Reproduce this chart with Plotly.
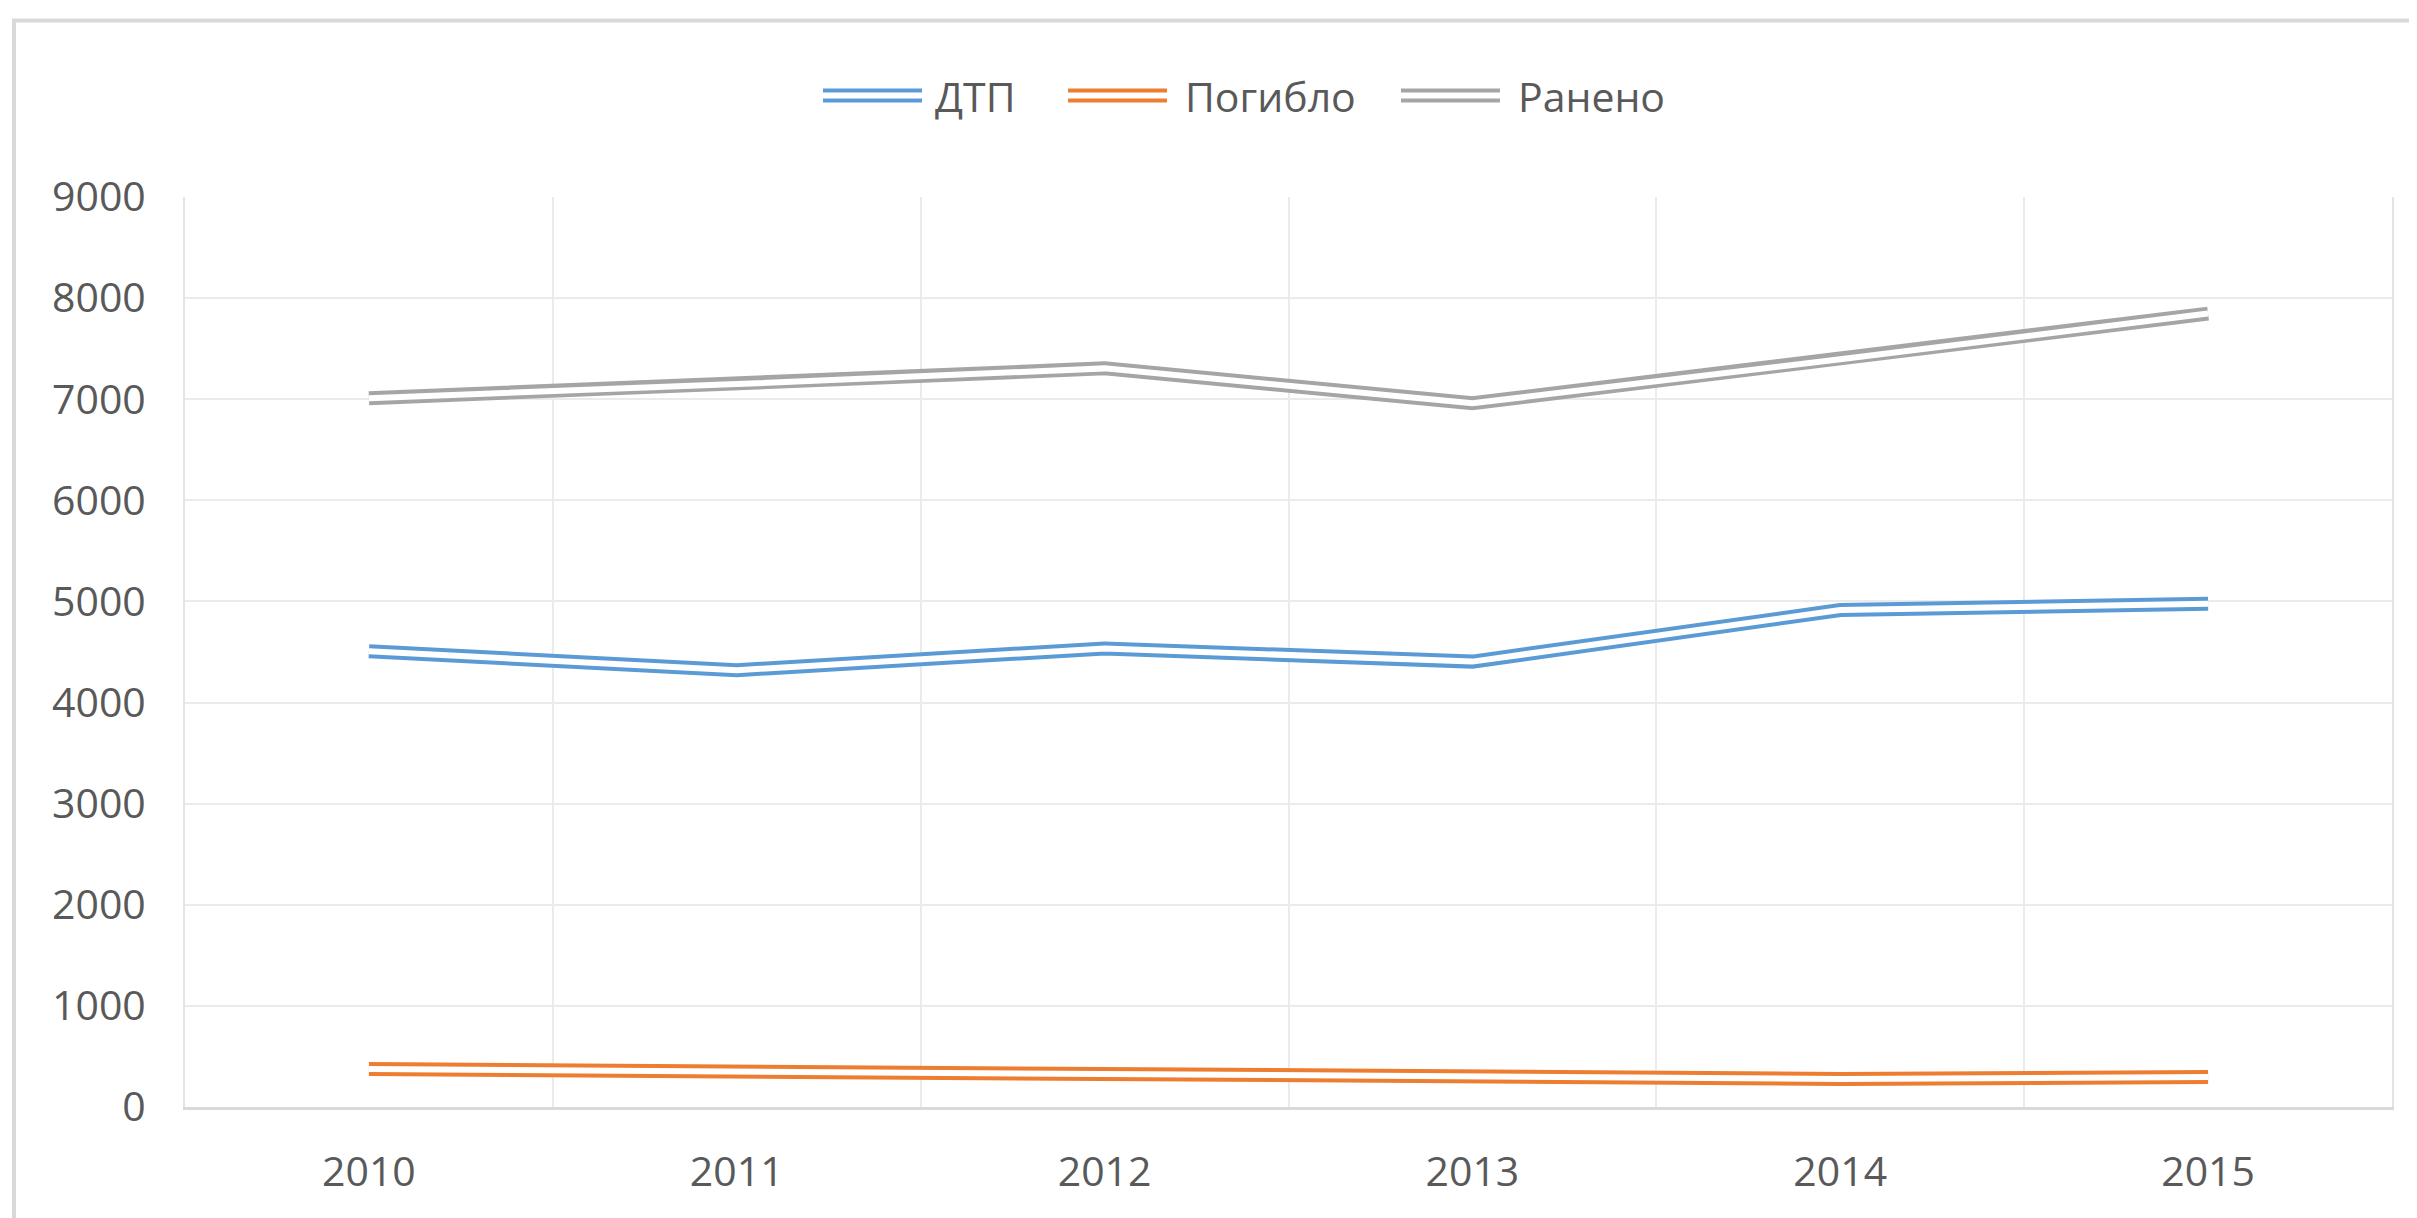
import plotly.graph_objects as go

# ---- data ----
years = ["2010", "2011", "2012", "2013", "2014", "2015"]
dtp = [4507, 4320, 4535, 4405, 4915, 4978]
pogiblo = [375, 350, 320, 300, 278, 296]
raneno = [7010, 7150, 7305, 6960, 7395, 7847]

series_names = ["ДТП", "Погибло", "Ранено"]
series_values = [dtp, pogiblo, raneno]
series_colors = ["#5B9BD5", "#ED7D31", "#A5A5A5"]

y_ticks = [0, 1000, 2000, 3000, 4000, 5000, 6000, 7000, 8000, 9000]

# ---- layout geometry (window pixels; page body has an 8px margin) ----
OFF = 8
W, H = 2417 - OFF, 1218 - OFF
L, R, T, B = 185, 2392, 197, 1107   # plot area in window pixels


def px(x):
    return (x - L) / (R - L)


def py(y):
    return (B - y) / (B - T)


FONT = "Open Sans"
FS = 41
TXT = "#595959"

fig = go.Figure()

# Double ("compound") lines: thick coloured stroke with a white core
for name, vals, col in zip(series_names, series_values, series_colors):
    fig.add_trace(go.Scatter(x=years, y=vals, mode="lines", name=name,
                             line=dict(color=col, width=14),
                             showlegend=False, hoverinfo="x+y+name"))
    fig.add_trace(go.Scatter(x=years, y=vals, mode="lines", name=name,
                             line=dict(color="white", width=6),
                             showlegend=False, hoverinfo="skip"))

shapes = []
annotations = []

# outer chart border
shapes.append(dict(type="rect", xref="paper", yref="paper",
                   x0=px(14), x1=px(2450), y0=py(1260), y1=py(20.5),
                   line=dict(color="#D9D9D9", width=4), fillcolor="rgba(0,0,0,0)",
                   layer="below"))

# custom legend (double-line symbols + text)
legend_items = [
    (823, 922, 933),
    (1068, 1167, 1183),
    (1401, 1500, 1516),
]
LEG_Y = 95.5
for (x0, x1, xt), name, col in zip(legend_items, series_names, series_colors):
    shapes.append(dict(type="line", xref="paper", yref="paper",
                       x0=px(x0), x1=px(x1), y0=py(LEG_Y), y1=py(LEG_Y),
                       line=dict(color=col, width=14), layer="above"))
    shapes.append(dict(type="line", xref="paper", yref="paper",
                       x0=px(x0) - 0.001, x1=px(x1) + 0.001, y0=py(LEG_Y), y1=py(LEG_Y),
                       line=dict(color="white", width=6), layer="above"))
    annotations.append(dict(xref="paper", yref="paper", x=px(xt), y=py(LEG_Y + 1),
                            text=name, showarrow=False, xanchor="left",
                            yanchor="middle",
                            font=dict(family=FONT, size=FS, color=TXT)))

fig.update_layout(
    width=W, height=H,
    margin=dict(l=L - OFF, r=(W + OFF) - R, t=T - OFF, b=(H + OFF) - B, pad=0),
    paper_bgcolor="white", plot_bgcolor="white",
    showlegend=False,
    shapes=shapes, annotations=annotations,
    font=dict(family=FONT, size=FS, color=TXT),
)

fig.update_xaxes(type="category", categoryorder="array", categoryarray=years,
                 range=[-0.5, 5.5], tickson="boundaries",
                 showgrid=True, gridcolor="#EBEBEB", gridwidth=2,
                 showline=True, linecolor="#D9D9D9", linewidth=3,
                 ticks="", ticklabelstandoff=27,
                 tickfont=dict(family=FONT, size=FS, color=TXT),
                 zeroline=False)

fig.update_yaxes(range=[0, 9000], tickvals=y_ticks,
                 ticktext=[str(v) for v in y_ticks],
                 showgrid=True, gridcolor="#EBEBEB", gridwidth=2,
                 showline=True, linecolor="#E3E3E3", linewidth=2, mirror=True,
                 ticks="", ticklabelstandoff=29,
                 tickfont=dict(family=FONT, size=FS, color=TXT),
                 zeroline=False)

fig.write_html("out.html")
